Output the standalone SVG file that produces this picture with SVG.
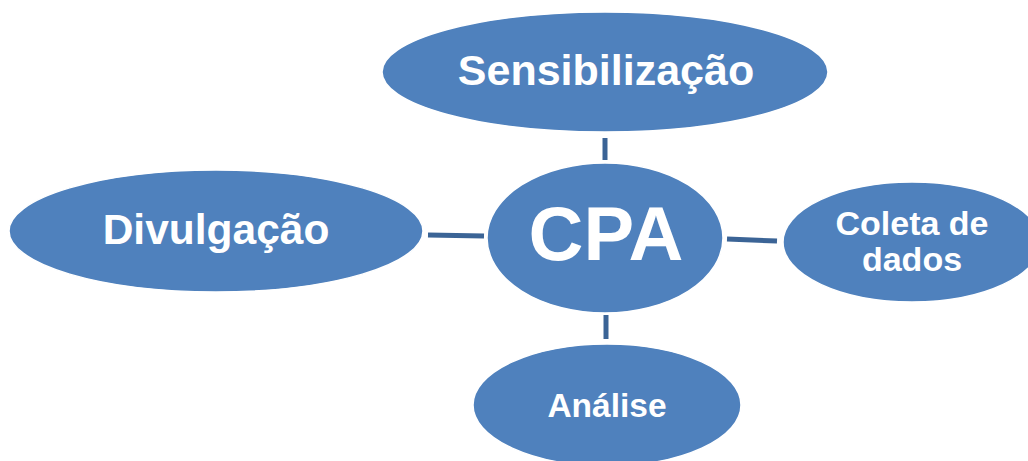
<svg xmlns="http://www.w3.org/2000/svg" width="1028" height="461" viewBox="0 0 1028 461">
<style>
.node ellipse{fill:#4F81BD;stroke:#ffffff;stroke-width:1.5}
.node text{font-family:"Liberation Sans",Arial,sans-serif;font-weight:bold;fill:#ffffff;text-anchor:middle}
.conn line{stroke:#3B6496;stroke-width:5}
</style>
<rect width="1028" height="461" fill="#ffffff"/>
<g id="connectors" class="conn">
<line x1="605" y1="138" x2="605" y2="160"/>
<line x1="606" y1="315" x2="606" y2="339"/>
<line x1="428" y1="235" x2="484" y2="236"/>
<line x1="727" y1="239" x2="777" y2="241"/>
</g>
<g id="sensibilizacao" class="node">
<ellipse cx="605" cy="72" rx="223" ry="60"/>
<text x="606" y="85" font-size="43">Sensibilização</text>
</g>
<g id="divulgacao" class="node">
<ellipse cx="216" cy="231" rx="207" ry="61"/>
<text x="216" y="244" font-size="42.5">Divulgação</text>
</g>
<g id="cpa" class="node">
<ellipse cx="605" cy="238" rx="118" ry="75"/>
<text x="606" y="260" font-size="76">CPA</text>
</g>
<g id="coleta" class="node">
<ellipse cx="912" cy="242" rx="129" ry="60"/>
<text x="912" font-size="34"><tspan x="912" y="235">Coleta de</tspan><tspan x="912" y="271">dados</tspan></text>
</g>
<g id="analise" class="node">
<ellipse cx="607" cy="405" rx="134" ry="61"/>
<text x="607" y="417" font-size="33.5">Análise</text>
</g>
</svg>
